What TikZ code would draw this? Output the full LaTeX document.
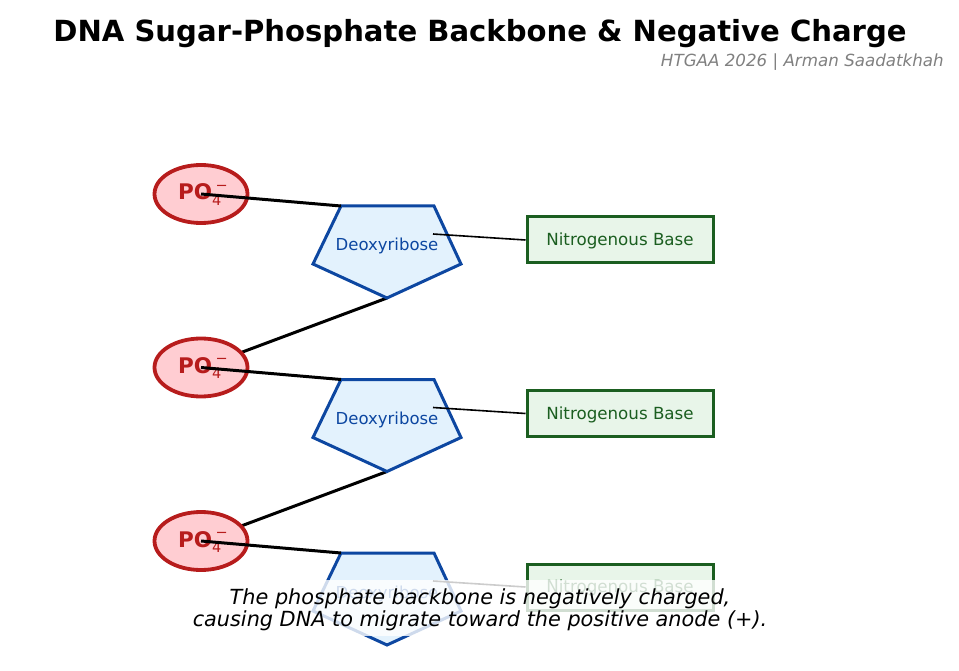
\documentclass[tikz,border=0pt]{standalone}
\usepackage{fontspec}
\setmainfont{DejaVu Sans}
\usetikzlibrary{shapes.geometric}
\definecolor{phosred}{HTML}{B71C1C}
\definecolor{phosfill}{HTML}{FFCDD2}
\definecolor{sugblue}{HTML}{0D47A1}
\definecolor{sugfill}{HTML}{E3F2FD}
\definecolor{basegreen}{HTML}{1B5E20}
\definecolor{basefill}{HTML}{E8F5E9}
\definecolor{subgray}{HTML}{808080}
\tikzset{
  phosnode/.style={ellipse, draw=phosred, fill=phosfill, line width=3.8pt, minimum width=93pt, minimum height=58pt, inner sep=0pt},
  sugarshape/.style={draw=sugblue, fill=sugfill, line width=3pt, line join=miter},
  basebox/.style={draw=basegreen, fill=basefill, line width=3pt, minimum width=186pt, minimum height=46pt, inner sep=0pt},
  backbone/.style={black, line width=3pt},
  baselink/.style={black, line width=1.6pt},
  phostext/.style={text=phosred, font=\fontsize{21.5}{21.5}\selectfont, inner sep=0pt, anchor=base west},
  sugtext/.style={text=sugblue, font=\fontsize{16.5}{16.5}\selectfont, inner sep=0pt, anchor=base},
  basetext/.style={text=basegreen, font=\fontsize{16.7}{16.7}\selectfont, inner sep=0pt, anchor=base},
}
\newcommand{\phoslabel}{{\bfseries PO}\rlap{\raisebox{-5.5pt}{\fontsize{14.5}{14.5}\selectfont 4}}\kern3.5pt\raisebox{9.5pt}{\fontsize{14.5}{14.5}\selectfont −}}
\begin{document}
\begin{tikzpicture}[x=1pt,y=-1pt]
\useasboundingbox (0,0) rectangle (959,671);
% title
\node[font=\bfseries\fontsize{29.1}{29.1}\selectfont, anchor=base, inner sep=0pt] (title) at (480,41.5) {DNA Sugar-Phosphate Backbone \& Negative Charge};
\node[font=\itshape\fontsize{16.7}{16.7}\selectfont, text=subgray, anchor=base east, inner sep=0pt] (subtitle) at (944,66.5) {HTGAA 2026 | Arman Saadatkhah};
% geometry per row
\foreach \i/\dy in {0/0,1/173.5,2/347}{
  \coordinate (stl\i) at (341,206+\dy);
  \coordinate (str\i) at (434,206+\dy);
  \coordinate (sr\i) at (461,264+\dy);
  \coordinate (sb\i) at (387,298+\dy);
  \coordinate (sl\i) at (313,264+\dy);
  \coordinate (slink\i) at (433,234+\dy);
  \coordinate (poc\i) at (201,194+\dy);
}
% backbone links sugar -> next phosphate (under ellipses)
\draw[backbone] (sb0) -- (poc1);
\draw[backbone] (sb1) -- (poc2);
% phosphates
\foreach \i in {0,1,2}{
  \node[phosnode] (po\i) at (poc\i) {};
}
% sugars
\foreach \i in {0,1,2}{
  \filldraw[sugarshape] (stl\i) -- (str\i) -- (sr\i) -- (sb\i) -- (sl\i) -- cycle;
}
% bases
\foreach \i/\dy in {0/0,1/173.5,2/347}{
  \node[basebox] (base\i) at (620,240+\dy) {};
}
% texts
\foreach \i/\dy in {0/0,1/173.5,2/347}{
  \node[phostext] (pot\i) at (178,200+\dy) {\phoslabel};
  \node[sugtext] (sugt\i) at (387,251+\dy) {Deoxyribose};
  \node[basetext] (baset\i) at (620,245.5+\dy) {Nitrogenous Base};
}
% links on top
\foreach \i in {0,1,2}{
  \draw[backbone] (poc\i) -- (stl\i);
  \draw[baselink] (slink\i) -- (base\i.west);
}
% overlay and caption
\fill[white, opacity=0.8] (0,580) rectangle (959,636);
\node[font=\itshape\fontsize{20.8}{20.8}\selectfont, anchor=base, inner sep=0pt] (cap1) at (480,604) {The phosphate backbone is negatively charged,};
\node[font=\itshape\fontsize{20.8}{20.8}\selectfont, anchor=base, inner sep=0pt] (cap2) at (480,626.5) {causing DNA to migrate toward the positive anode (+).};
\end{tikzpicture}
\end{document}
